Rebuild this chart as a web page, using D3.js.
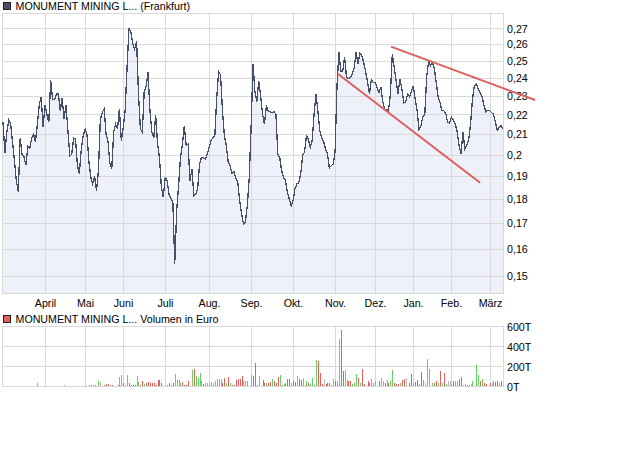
<!DOCTYPE html>
<html><head><meta charset="utf-8">
<script src="https://cdn.jsdelivr.net/npm/d3@7"></script>
<style>
html,body{margin:0;padding:0;background:#fff;}
svg{display:block;font-family:"Liberation Sans",Arial,sans-serif;}
</style></head>
<body><svg id="c" width="636" height="458"></svg>
<script>
const months = ["April","Mai","Juni","Juli","Aug.","Sep.","Okt.","Nov.","Dez.","Jan.","Feb.","März"];
const monthStart = [22,43,63,85,108,130,152,174,195,215,235,255];
const priceTicks = [0.15,0.16,0.17,0.18,0.19,0.2,0.21,0.22,0.23,0.24,0.25,0.26,0.27];
const volTicks = [0,200,400,600];
const price = [
0.216,0.201,0.211,0.217,0.215,0.206,0.197,0.188,0.183,0.208,
0.200,0.199,0.195,0.204,0.203,0.208,0.210,0.206,0.215,0.225,
0.2295,0.2135,0.225,0.220,0.216,0.2385,0.228,0.228,0.231,0.231,
0.222,0.229,0.2175,0.225,0.212,0.1995,0.200,0.208,0.2075,0.195,
0.191,0.2025,0.209,0.2125,
0.210,0.197,0.1895,0.1865,0.190,0.1835,
0.1925,0.2175,0.221,0.223,0.210,0.2065,0.196,0.1935,0.211,0.215,
0.2125,0.223,0.2065,0.2135,0.222,0.246,0.270,0.2675,0.2603,0.257,
0.262,0.231,0.2125,0.211,0.2325,0.235,0.2435,0.222,0.211,0.208,
0.2195,0.205,0.1985,0.185,0.1807,0.1895,0.188,0.182,
0.1803,0.1785,0.1543,0.175,0.1857,0.1986,0.205,0.214,0.2043,0.205,0.188,0.1934,
0.1815,0.1822,0.1845,0.1956,0.1986,0.1986,0.1978,0.2003,0.2035,0.2067,0.2083,0.2091,
0.2291,0.2436,0.2417,0.222,0.2091,0.2043,0.1964,0.1948,0.1913,0.1922,0.1892,0.1877,
0.1793,0.1737,0.1696,0.1703,0.1771,0.1888,0.2133,0.248,
0.2325,0.2268,0.2384,0.230,0.2202,0.215,0.2243,0.222,0.2215,0.221,0.2215,0.2202,
0.2003,0.1986,0.1925,0.1895,0.188,0.1829,0.180,0.1771,0.1793,0.1845,0.1865,0.1872,
0.191,0.1995,0.2012,0.2091,0.2075,0.2035,0.2067,0.2202,0.231,0.222,0.2117,0.208,
0.2064,0.2027,0.2003,0.1938,0.1948,0.1956,0.2012,0.235,
0.255,0.244,0.244,0.252,0.2404,0.2395,0.2404,0.2419,0.2459,0.255,0.248,0.2545,
0.253,0.249,0.2438,0.2375,0.231,0.2388,0.2375,0.2375,0.2343,0.2318,0.2347,0.2268,
0.2228,0.2228,0.222,0.231,0.254,0.2459,0.2384,0.231,0.2394,0.2337,0.2262,0.2268,
0.231,0.2295,0.2323,0.2356,0.2281,0.222,0.2125,0.2142,
0.2189,0.2195,0.2404,0.2496,0.2471,0.2486,0.2456,0.2375,0.2295,0.2262,0.222,0.222,
0.2205,0.216,0.2155,0.2185,0.2172,0.2152,0.2111,0.2043,0.2003,0.2111,0.2027,0.2043,
0.207,0.2152,0.2281,0.2356,0.2365,0.2337,0.2318,0.2295,0.2248,0.2215,0.2222,0.222,
0.221,0.2202,0.216,0.212,0.2133,0.2145,0.2125];
const volume = [
0,10,0,0,0,0,0,0,8,8,
0,0,0,0,8,0,8,0,31,0,
0,0,8,0,0,0,0,0,0,8,
0,0,20,10,10,0,0,10,10,0,
0,0,0,20,0,17,17,17,17,10,
55,45,0,17,28,24,17,17,10,0,
14,100,120,38,17,120,38,20,20,20,
107,45,17,52,24,38,45,38,34,38,
17,62,62,38,10,10,20,34,17,34,
121,66,62,31,45,20,17,52,0,166,
176,104,86,138,52,24,38,31,31,45,
38,59,72,72,72,38,86,38,97,38,
17,17,62,79,79,104,59,52,52,0,
114,107,235,17,107,0,62,38,38,31,
45,79,52,38,97,114,17,24,38,72,
72,38,52,45,104,72,62,90,20,59,
38,28,86,20,270,259,131,28,72,24,
38,38,20,72,59,52,476,570,155,166,
62,52,52,24,38,121,86,38,176,28,
0,52,38,79,38,52,10,52,86,52,
38,62,38,52,166,34,24,24,38,62,
72,86,0,38,121,38,45,62,28,142,
62,38,280,176,0,38,38,52,38,155,
38,135,24,52,52,28,59,59,52,72,
97,17,24,17,17,24,52,0,217,114,
59,72,38,24,10,38,38,52,45,59,
38,52,0];
const volDir = [
0,-1,0,0,0,0,0,0,1,-1,
0,0,0,0,-1,0,0,0,1,0,
0,0,1,0,0,0,0,0,0,-1,
0,0,1,-1,-1,0,0,1,-1,0,
0,0,0,1,0,1,1,1,-1,0,
1,0,0,-1,-1,-1,1,-1,1,0,
-1,1,1,-1,0,1,-1,-1,-1,-1,
1,1,-1,-1,1,-1,-1,-1,-1,-1,
-1,-1,-1,-1,0,1,-1,-1,-1,-1,
1,1,1,1,-1,-1,-1,-1,0,1,
-1,1,1,1,1,-1,1,1,1,1,
1,1,1,1,1,-1,-1,1,-1,1,
-1,-1,-1,-1,-1,-1,1,1,1,0,
1,-1,-1,-1,1,0,-1,-1,1,-1,
-1,1,-1,-1,-1,1,-1,1,1,-1,
-1,0,-1,-1,1,-1,-1,1,0,1,
-1,1,1,1,1,-1,-1,-1,0,-1,
-1,-1,1,1,-1,1,1,-1,-1,1,
1,-1,-1,1,1,1,-1,1,-1,-1,
0,-1,-1,1,1,1,-1,-1,1,1,
-1,1,-1,1,1,-1,-1,-1,1,-1,
-1,0,0,-1,-1,1,-1,-1,1,-1,
1,0,1,1,0,1,-1,-1,1,-1,
1,-1,1,0,0,1,-1,1,1,-1,
-1,1,1,-1,-1,0,1,0,1,1,
-1,1,-1,-1,-1,-1,0,1,-1,-1,
1,-1,0];
const trendUpper = [[203.3,0.2585],[278.8,0.2277]];
const trendLower = [[175.4,0.2424],[250,0.1871]];

const svg = d3.select("#c");
const L = 2.5, R = 503.5, T1 = 13.5, B1 = 293.5, T2 = 326.5, B2 = 386.5;
const grid = "#d9d9d9", lineCol = "#46506b", fillCol = "#eef1fa";
const green = "#63d463", red = "#e0605c", gray = "#bbbbbb";
const fs = "10.67px";

const x = d3.scaleLinear().domain([0, price.length - 1]).range([3, 503]);
const y = d3.scaleLog().domain([0.14379, 0.27966]).range([B1, T1]);
const yv = d3.scaleLinear().domain([0, 600]).range([B2, T2]);
const px = i => Math.round(x(i)) + 0.5;

// legends
svg.append("rect").attr("x",3.5).attr("y",2.5).attr("width",7).attr("height",7)
  .attr("fill",lineCol).attr("stroke","#222").attr("stroke-width",1);
svg.append("text").attr("x",15.5).attr("y",10.3).attr("font-size",fs).attr("fill","#000")
  .text("MONUMENT MINING L... (Frankfurt)");
svg.append("rect").attr("x",3.5).attr("y",315.5).attr("width",7).attr("height",7)
  .attr("fill",red).attr("stroke","#222").attr("stroke-width",1);
svg.append("text").attr("x",15.5).attr("y",323).attr("font-size",fs).attr("fill","#000")
  .text("MONUMENT MINING L... Volumen in Euro");

// price panel
const area = d3.area().x((d,i)=>x(i)).y0(B1).y1(d=>y(d));
svg.append("path").datum(price).attr("d",area).attr("fill",fillCol);

const g1 = svg.append("g");
g1.selectAll(".hy").data(priceTicks).join("line")
  .attr("x1",L).attr("x2",R).attr("y1",d=>Math.round(y(d))+0.5).attr("y2",d=>Math.round(y(d))+0.5)
  .attr("stroke",grid).attr("stroke-width",1);
g1.selectAll(".vx").data(monthStart).join("line")
  .attr("x1",d=>px(d)).attr("x2",d=>px(d)).attr("y1",T1).attr("y2",B1)
  .attr("stroke",grid).attr("stroke-width",1);
g1.append("rect").attr("x",L).attr("y",T1).attr("width",R-L).attr("height",B1-T1)
  .attr("fill","none").attr("stroke",grid).attr("stroke-width",1);

const line = d3.line().x((d,i)=>x(i)).y(d=>y(d));
svg.append("path").datum(price).attr("d",line).attr("fill","none")
  .attr("stroke",lineCol).attr("stroke-width",1.3).attr("stroke-linejoin","miter")
  .attr("shape-rendering","crispEdges");

// y labels price
svg.selectAll(".yl").data(priceTicks).join("text")
  .attr("x",507).attr("y",d=>y(d)+0.5).attr("dy","0.35em").attr("font-size",fs)
  .text(d=>d3.format(".2~f")(d).replace(".",","));

// x labels
svg.selectAll(".xl").data(monthStart).join("text")
  .attr("x",d=>px(d)).attr("y",307).attr("text-anchor","middle").attr("font-size",fs)
  .text((d,i)=>months[i]);

// trend lines
const tl = d3.line().x(d=>x(d[0])).y(d=>y(d[1]));
[trendUpper, trendLower].forEach(t=>{
  svg.append("path").datum(t).attr("d",tl).attr("stroke","#dc5f5f")
    .attr("stroke-width",2).attr("fill","none");
});

// volume panel
const g2 = svg.append("g");
g2.selectAll("line.h").data(volTicks).join("line")
  .attr("x1",L).attr("x2",R).attr("y1",d=>Math.round(yv(d)-0.5)+0.5).attr("y2",d=>Math.round(yv(d)-0.5)+0.5)
  .attr("stroke",grid);
g2.selectAll("line.v").data(monthStart).join("line")
  .attr("x1",d=>px(d)).attr("x2",d=>px(d)).attr("y1",T2).attr("y2",B2).attr("stroke",grid);
g2.append("rect").attr("x",L).attr("y",T2).attr("width",R-L).attr("height",B2-T2)
  .attr("fill","none").attr("stroke",grid);

svg.append("g").attr("shape-rendering","crispEdges").selectAll("rect")
  .data(volume.map((v,i)=>({v,i,d:volDir[i]})).filter(o=>o.v>0)).join("rect")
  .attr("x",o=>Math.round(x(o.i))).attr("width",1)
  .attr("y",o=>yv(o.v)).attr("height",o=>B2-0.5-yv(o.v))
  .attr("fill",o=>o.d>0?green:(o.d<0?red:gray));

svg.selectAll(".vl").data(volTicks).join("text")
  .attr("x",507).attr("y",d=>yv(d)+0.5).attr("dy","0.35em").attr("font-size",fs)
  .text(d=>d+"T");
</script></body></html>
